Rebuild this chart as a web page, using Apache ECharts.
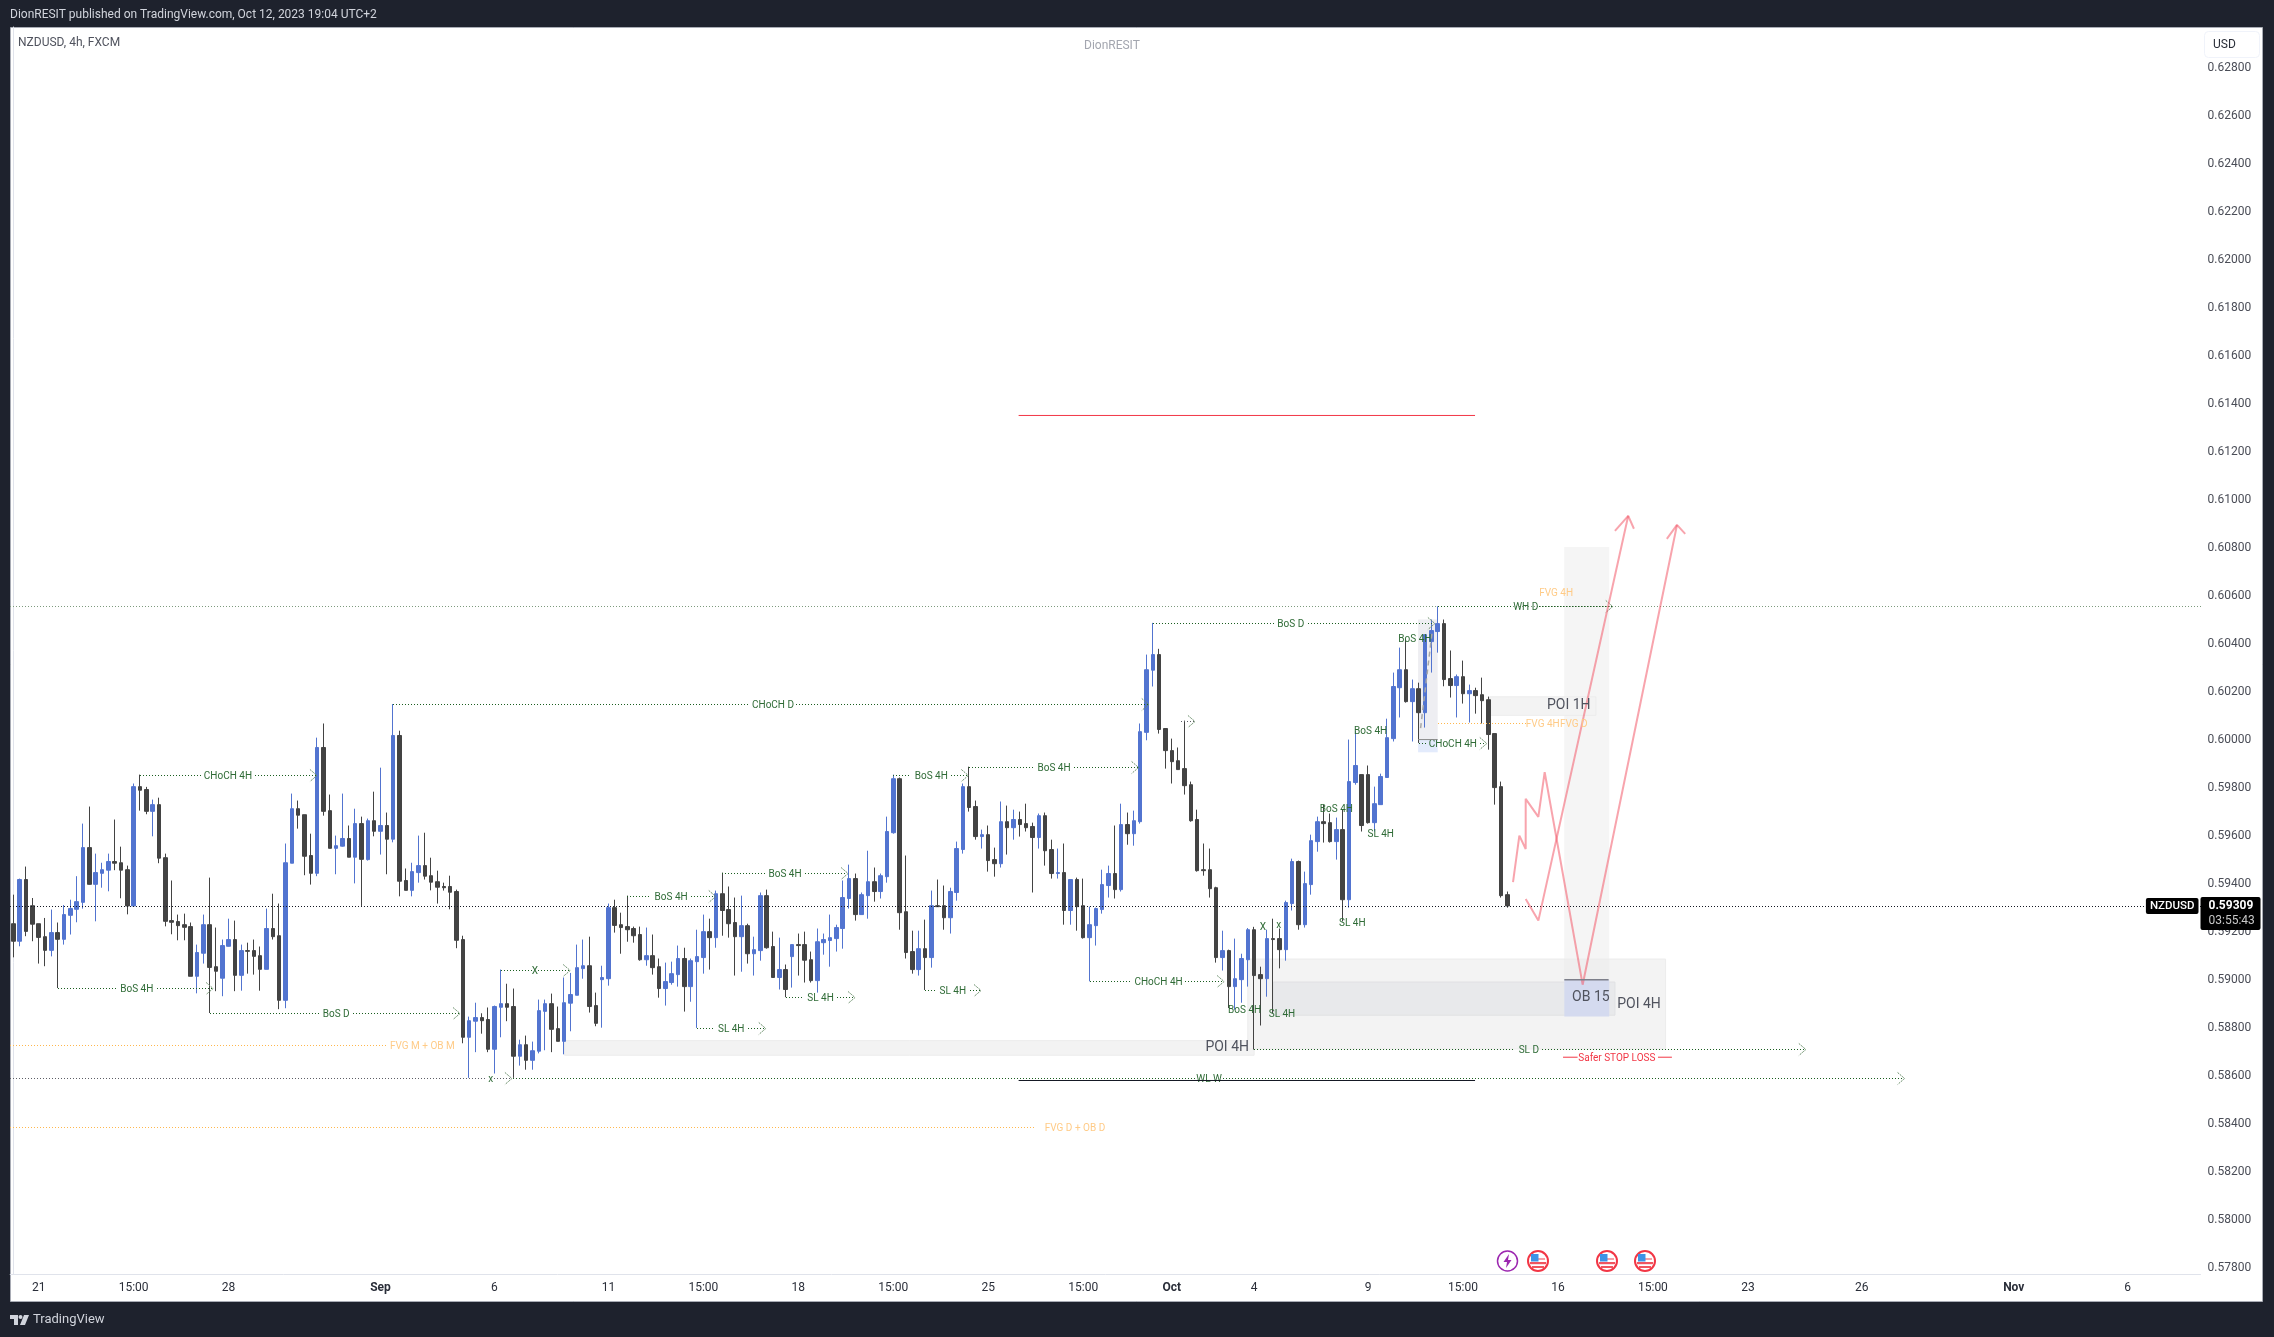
<!DOCTYPE html>
<html><head><meta charset="utf-8">
<style>html,body{margin:0;padding:0;background:#1e222d}#c{width:2274px;height:1337px}</style>
<script src="https://cdn.jsdelivr.net/npm/echarts@6/dist/echarts.min.js"></script>
</head><body><div id="c"></div>
<script>
const opens=[0.59235,0.59162,0.59419,0.59310,0.59235,0.59181,0.59124,0.59198,0.59170,0.59270,
0.59295,0.59324,0.59552,0.59399,0.59445,0.59458,0.59494,0.59489,0.59460,0.59309,
0.59806,0.59794,0.59703,0.59731,0.59510,0.59248,0.59244,0.59231,0.59223,0.59016,
0.59112,0.59231,0.59056,0.59008,0.59141,0.59169,0.59020,0.59123,0.59123,0.59102,
0.59045,0.59215,0.59185,0.58916,0.59487,0.59714,0.59689,0.59519,0.59445,0.59969,
0.59706,0.59549,0.59558,0.59590,0.59512,0.59652,0.59502,0.59664,0.59620,0.59644,
0.59587,0.60019,0.59415,0.59374,0.59448,0.59477,0.59435,0.59410,0.59390,0.59390,
0.59369,0.59169,0.58762,0.58829,0.58844,0.58836,0.58712,0.58887,0.58902,0.58890,
0.58683,0.58731,0.58666,0.58704,0.58870,0.58902,0.58798,0.58745,0.58904,0.58937,
0.59048,0.59060,0.58894,0.59002,0.59006,0.59302,0.59231,0.59223,0.59215,0.59190,
0.59085,0.59102,0.59056,0.58965,0.58990,0.59023,0.59090,0.58973,0.59077,0.59094,
0.59202,0.59177,0.59360,0.59294,0.59240,0.59181,0.59227,0.59110,0.59123,0.59352,
0.59140,0.59011,0.59044,0.59098,0.59148,0.59148,0.59085,0.58998,0.59156,0.59165,
0.59173,0.59215,0.59340,0.59423,0.59273,0.59352,0.59410,0.59369,0.59431,0.59614,
0.59839,0.59285,0.59119,0.59044,0.59131,0.59094,0.59310,0.59310,0.59260,0.59365,
0.59544,0.59806,0.59723,0.59598,0.59606,0.59502,0.59485,0.59660,0.59635,0.59669,
0.59652,0.59640,0.59594,0.59685,0.59544,0.59444,0.59448,0.59290,0.59419,0.59310,
0.59177,0.59227,0.59294,0.59394,0.59444,0.59377,0.59648,0.59610,0.59660,0.60032,
0.60291,0.60356,0.60048,0.59956,0.59914,0.59881,0.59814,0.59669,0.59460,0.59460,
0.59385,0.59094,0.59123,0.58973,0.59002,0.59085,0.59210,0.59023,0.59006,0.59173,
0.59173,0.59127,0.59319,0.59494,0.59231,0.59398,0.59577,0.59660,0.59656,0.59577,
0.59627,0.59335,0.59823,0.59856,0.59856,0.59656,0.59731,0.59844,0.60006,0.60218,
0.60293,0.60160,0.60214,0.60114,0.60410,0.60452,0.60485,0.60256,0.60227,0.60264,
0.60193,0.60206,0.60189,0.60168,0.60027,0.59806,0.59356];
const closes=[0.59162,0.59419,0.59203,0.59233,0.59178,0.59124,0.59198,0.59170,0.59273,0.59298,
0.59327,0.59552,0.59399,0.59448,0.59460,0.59494,0.59487,0.59458,0.59309,0.59806,
0.59791,0.59703,0.59731,0.59508,0.59245,0.59241,0.59227,0.59220,0.59016,0.59115,
0.59231,0.59053,0.59037,0.59144,0.59169,0.59020,0.59123,0.59120,0.59099,0.59045,
0.59215,0.59181,0.58916,0.59489,0.59714,0.59687,0.59516,0.59445,0.59969,0.59703,
0.59549,0.59560,0.59590,0.59512,0.59652,0.59503,0.59664,0.59620,0.59644,0.59587,
0.60019,0.59412,0.59374,0.59452,0.59477,0.59433,0.59408,0.59387,0.59385,0.59366,
0.59166,0.58762,0.58831,0.58844,0.58831,0.58712,0.58890,0.58902,0.58887,0.58683,
0.58731,0.58666,0.58706,0.58873,0.58902,0.58795,0.58745,0.58906,0.58940,0.59052,
0.59060,0.58890,0.58820,0.59011,0.59302,0.59228,0.59219,0.59210,0.59185,0.59085,
0.59102,0.59052,0.58965,0.58994,0.59027,0.59090,0.58973,0.59081,0.59098,0.59202,
0.59177,0.59360,0.59290,0.59235,0.59181,0.59227,0.59110,0.59127,0.59352,0.59135,
0.59011,0.59044,0.58961,0.59148,0.59144,0.59083,0.58998,0.59160,0.59169,0.59177,
0.59219,0.59344,0.59423,0.59273,0.59356,0.59410,0.59369,0.59435,0.59619,0.59839,
0.59281,0.59115,0.59044,0.59131,0.59094,0.59310,0.59306,0.59260,0.59369,0.59548,
0.59806,0.59719,0.59598,0.59606,0.59498,0.59485,0.59660,0.59635,0.59669,0.59648,
0.59635,0.59594,0.59685,0.59539,0.59444,0.59448,0.59290,0.59419,0.59306,0.59177,
0.59231,0.59298,0.59398,0.59444,0.59377,0.59648,0.59610,0.59664,0.60035,0.60293,
0.60356,0.60044,0.59956,0.59910,0.59877,0.59810,0.59664,0.59456,0.59456,0.59381,
0.59094,0.59123,0.58973,0.59006,0.59090,0.59210,0.59019,0.59006,0.59173,0.59169,
0.59127,0.59323,0.59494,0.59231,0.59402,0.59581,0.59660,0.59652,0.59577,0.59627,
0.59335,0.59827,0.59894,0.59644,0.59656,0.59735,0.59848,0.60010,0.60223,0.60293,
0.60160,0.60214,0.60114,0.60439,0.60456,0.60485,0.60252,0.60227,0.60264,0.60193,
0.60206,0.60185,0.60164,0.60023,0.59802,0.59352,0.59309];
const lows=[0.59095,0.59141,0.59183,0.59162,0.59069,0.59058,0.59099,0.58967,0.59148,0.59190,
0.59241,0.59298,0.59398,0.59245,0.59385,0.59370,0.59458,0.59341,0.59274,0.59309,
0.59706,0.59691,0.59599,0.59487,0.59224,0.59191,0.59166,0.59166,0.59016,0.58945,
0.59069,0.58863,0.58954,0.58933,0.59140,0.58954,0.58956,0.59027,0.59023,0.58956,
0.59045,0.59169,0.58879,0.58883,0.59487,0.59631,0.59437,0.59398,0.59433,0.59685,
0.59549,0.59441,0.59556,0.59512,0.59403,0.59309,0.59498,0.59599,0.59523,0.59441,
0.59574,0.59349,0.59374,0.59349,0.59406,0.59419,0.59374,0.59319,0.59373,0.59295,
0.59133,0.58737,0.58593,0.58700,0.58777,0.58700,0.58611,0.58762,0.58829,0.58593,
0.58644,0.58627,0.58627,0.58695,0.58708,0.58700,0.58745,0.58691,0.58787,0.58937,
0.59006,0.58865,0.58808,0.58802,0.58977,0.59198,0.59110,0.59160,0.59156,0.59081,
0.59060,0.59023,0.58927,0.58894,0.58981,0.58973,0.58869,0.58910,0.58801,0.59027,
0.59044,0.59135,0.59185,0.59177,0.59019,0.59035,0.59069,0.59019,0.59081,0.59131,
0.59011,0.58961,0.58929,0.58969,0.59019,0.58990,0.58990,0.58948,0.59106,0.59056,
0.59119,0.59131,0.59298,0.59248,0.59273,0.59256,0.59327,0.59340,0.59406,0.59610,
0.59210,0.59090,0.59027,0.59019,0.58959,0.59052,0.59306,0.59210,0.59194,0.59331,
0.59527,0.59702,0.59585,0.59548,0.59452,0.59431,0.59469,0.59523,0.59585,0.59598,
0.59619,0.59365,0.59548,0.59477,0.59423,0.59423,0.59231,0.59231,0.59206,0.59173,
0.58995,0.59144,0.59277,0.59344,0.59340,0.59369,0.59564,0.59560,0.59652,0.59999,
0.60223,0.60027,0.59881,0.59819,0.59877,0.59773,0.59660,0.59452,0.59435,0.59344,
0.59073,0.59040,0.58884,0.58877,0.58906,0.58973,0.58711,0.58811,0.58931,0.58863,
0.59049,0.59081,0.59290,0.59210,0.59219,0.59356,0.59535,0.59573,0.59573,0.59502,
0.59245,0.59302,0.59814,0.59619,0.59652,0.59619,0.59731,0.59844,0.59994,0.60094,
0.60156,0.59994,0.59988,0.60052,0.60281,0.60364,0.60224,0.60177,0.60094,0.60152,
0.60073,0.60110,0.60069,0.59960,0.59731,0.59344,0.59302];
const highs=[0.59356,0.59423,0.59473,0.59342,0.59235,0.59259,0.59294,0.59240,0.59313,0.59335,
0.59433,0.59652,0.59723,0.59527,0.59489,0.59527,0.59669,0.59556,0.59477,0.59819,
0.59856,0.59805,0.59752,0.59760,0.59527,0.59415,0.59273,0.59277,0.59240,0.59148,
0.59273,0.59427,0.59219,0.59169,0.59256,0.59248,0.59148,0.59156,0.59169,0.59140,
0.59298,0.59360,0.59319,0.59569,0.59777,0.59748,0.59689,0.59610,0.60010,0.60069,
0.59773,0.59602,0.59777,0.59644,0.59714,0.59681,0.59673,0.59785,0.59885,0.59698,
0.60150,0.60039,0.59465,0.59489,0.59602,0.59614,0.59510,0.59456,0.59406,0.59435,
0.59377,0.59185,0.58848,0.58906,0.58862,0.58886,0.58894,0.59044,0.58985,0.58965,
0.58752,0.58769,0.58744,0.58919,0.58919,0.58944,0.58890,0.59011,0.59030,0.59148,
0.59169,0.59181,0.58948,0.59060,0.59319,0.59335,0.59281,0.59352,0.59223,0.59223,
0.59219,0.59190,0.59090,0.59073,0.59077,0.59144,0.59135,0.59090,0.59210,0.59273,
0.59256,0.59373,0.59448,0.59390,0.59344,0.59352,0.59235,0.59181,0.59365,0.59377,
0.59202,0.59177,0.59065,0.59148,0.59194,0.59202,0.59119,0.59215,0.59194,0.59273,
0.59231,0.59415,0.59481,0.59444,0.59365,0.59539,0.59469,0.59444,0.59681,0.59856,
0.59844,0.59519,0.59206,0.59206,0.59252,0.59373,0.59419,0.59394,0.59385,0.59577,
0.59819,0.59889,0.59748,0.59627,0.59644,0.59552,0.59744,0.59727,0.59710,0.59702,
0.59735,0.59656,0.59694,0.59698,0.59585,0.59548,0.59569,0.59419,0.59427,0.59423,
0.59306,0.59302,0.59460,0.59477,0.59644,0.59735,0.59698,0.59706,0.60069,0.60356,
0.60488,0.60380,0.60048,0.60006,0.59969,0.60081,0.59827,0.59710,0.59569,0.59548,
0.59389,0.59206,0.59127,0.59173,0.59110,0.59217,0.59222,0.59056,0.59210,0.59256,
0.59215,0.59331,0.59506,0.59498,0.59452,0.59606,0.59681,0.59731,0.59694,0.59677,
0.59710,0.60002,0.60039,0.59856,0.59894,0.59806,0.59860,0.60089,0.60281,0.60385,
0.60422,0.60252,0.60239,0.60439,0.60502,0.60557,0.60502,0.60373,0.60273,0.60331,
0.60231,0.60218,0.60260,0.60181,0.60027,0.59827,0.59369];

const barSlots=346;
const timeLabels={4:'21',19:'15:00',34:'28',58:'Sep',76:'6',94:'11',109:'15:00',124:'18',139:'15:00',154:'25',169:'15:00',183:'Oct',196:'4',214:'9',229:'15:00',244:'16',259:'15:00',274:'23',292:'26',316:'Nov',334:'6'};
const priceTicks=[0.578,0.58,0.582,0.584,0.586,0.588,0.59,0.592,0.594,0.596,0.598,0.6,0.602,0.604,0.606,0.608,0.61,0.612,0.614,0.616,0.618,0.62,0.622,0.624,0.626,0.628];
const lastPrice=0.59309;
const symbolName='NZDUSD', countdown='03:55:43';

// label, bar from, bar to, price, label at bar, arrow, kind
const levels=[
['',-0.5,345.5,lastPrice,-9,0,'k'],
['',-0.5,345.5,0.60557,-9,0,'p'],
['x',-0.5,78.6,0.58593,75.4,1,'n'],
['CHoCH 4H',20,47.8,0.59855,33.9,1,'g'],
['BoS 4H',7,31.4,0.58967,19.5,1,'g'],
['BoS D',31,70.4,0.58863,51,1,'g'],
['X',77,87.8,0.59042,82.4,1,'g'],
['FVG M + OB M',-0.5,59,0.58730,64.6,0,'o'],
['FVG D + OB D',-0.5,161.2,0.58388,167.7,0,'o'],
['CHoCH D',60,179.2,0.60149,120,1,'g'],
['BoS 4H',97,110.8,0.59351,103.9,1,'g'],
['BoS 4H',112,131.7,0.59446,121.9,1,'g'],
['BoS 4H',139,150.7,0.59853,145,1,'g'],
['BoS 4H',151,177.6,0.59888,164.4,1,'g'],
['SL 4H',108,118.7,0.58801,113.4,1,'g'],
['SL 4H',122,132.8,0.58930,127.5,1,'g'],
['SL 4H',144,152.7,0.58959,148.4,1,'g'],
['CHoCH 4H',170,191.1,0.58997,180.9,1,'g'],
['BoS D',180,224.4,0.60488,201.8,1,'g'],
['WH D',225,252.5,0.60557,238.9,1,'g'],
['CHoCH 4H',222,232.6,0.59987,227.4,1,'g'],
['SL D',196,283,0.58713,239.4,1,'g'],
['WL W',79,298.6,0.58593,188.9,1,'g'],
['',184.5,186.5,0.60081,-9,1,'n'],
['FVG 4H',225,238.9,0.60070,241.6,0,'o']
];
// text, bar, price, kind
const notes=[
['BoS 4H',221.4,0.60421,'g'],['BoS 4H',214.4,0.60038,'g'],['BoS 4H',209,0.59713,'g'],
['SL 4H',216,0.59609,'g'],['SL 4H',211.5,0.59238,'g'],['X',197.4,0.59222,'g'],['x',199.9,0.59231,'g'],
['BoS 4H',194.5,0.58876,'g'],['SL 4H',200.4,0.58863,'g'],
['FVG D',246.5,0.60070,'o'],['FVG 4H',243.7,0.60614,'o'],
['Safer STOP LOSS',253.3,0.58679,'r'],
['POI 4H',191.75,0.58722,'b'],['POI 1H',245.7,0.60148,'b'],['OB 15',249.2,0.58930,'b'],['POI 4H',256.8,0.58902,'b']
];
// bar from, bar to, top, bottom, kind
const zones=[
[87.07,196,0.58748,0.58687,'a'],
[195,261,0.59088,0.58713,'a'],
[199,253,0.58992,0.58854,'c'],
[245,252.1,0.60804,0.59002,'t'],
[233.2,250,0.60180,0.60103,'a'],
[221.9,225,0.60502,0.60002,'d'],
[221.9,225,0.60002,0.59949,'e'],
[245,252.1,0.59002,0.58849,'u']
];
const forecastA=[[236.9,0.59408],[237.9,0.59602],[238.9,0.59546],[238.9,0.59755],[240.9,0.59680],[241.9,0.59866],[247.9,0.58981],[262.8,0.60896]];
const forecastAHead=[[261.2,0.60838],[262.8,0.60896],[264.1,0.60859]];
const forecastB=[[238.9,0.59338],[240.9,0.59248],[255.1,0.60934]];
const forecastBHead=[[253.0,0.60871],[255.1,0.60934],[256.0,0.60880]];
const redLevel=[[158.8,0.61352],[230.9,0.61352]];
const blackLevel=[[158.8,0.58582],[230.9,0.58582]];
const greyDash=[[222.3,0.60050],[224.1,0.60446]];
const obTop=[[245,0.59002],[252,0.59002]];
const poiMid=[[221.9,0.60002],[225,0.60002]];
const stopLeft=[[244.8,0.58679],[247.1,0.58679]];
const stopRight=[[259.8,0.58679],[262,0.58679]];

const FONT='Roboto, "Noto Sans", sans-serif';
const lineStyles={g:{stroke:'#1b5e20',lineDash:[1,2]},n:{stroke:'#5d5f66',lineDash:[1,2]},p:{stroke:'#7d9a7d',lineDash:[1,2]},o:{stroke:'#ffb74d',lineDash:[1,2]},k:{stroke:'#131722',lineDash:[1,2]}};
const textColors={g:'#2f6b36',n:'#2f6b36',o:'#ffcb87',r:'#f23645',b:'#50535e',p:'#2f6b36'};
const zoneStyles={a:{fill:'#f3f3f3',stroke:'#ececec'},c:{fill:'#e8e9eb',stroke:'#e0e1e3'},t:{fill:'rgba(235,235,235,0.5)',stroke:'none'},d:{fill:'#eeeef2',stroke:'none'},e:{fill:'#e3ebfc',stroke:'none'},u:{fill:'#d4daef',stroke:'none'}};

const categories=Array.from({length:barSlots},(_,i)=>timeLabels[i]||'');
const candleData=opens.map((o,i)=>[o,closes[i],lows[i],highs[i]]);

function crisp(v){return Math.round(v)+0.5;}
function renderLevel(params,api){
  const r=levels[params.dataIndex];
  const a=api.coord([r[1],r[3]]),b=api.coord([r[2],r[3]]),lab=api.coord([r[4],r[3]]);
  const y=crisp(a[1]);
  const st=lineStyles[r[6]];
  const kids=[];
  const seg=(x1,x2)=>kids.push({type:'line',shape:{x1:Math.round(x1),y1:y,x2:Math.round(x2),y2:y},style:{stroke:st.stroke,lineDash:st.lineDash,lineWidth:1,fill:null}});
  const half=r[0].length*3.35;
  if(r[0]&&lab[0]>a[0]&&lab[0]<b[0]){seg(a[0],lab[0]-half);seg(lab[0]+half,b[0]);}else seg(a[0],b[0]);
  if(r[0])kids.push({type:'text',x:lab[0],y:y+0.5,style:{text:r[0],fill:textColors[r[6]],font:'10px '+FONT,align:'center',verticalAlign:'middle'}});
  if(r[5])kids.push({type:'polyline',shape:{points:[[b[0]-6,y-6],[b[0]+1,y],[b[0]-6,y+6]]},style:{stroke:'#6b8f6b',lineDash:[2,1],lineWidth:1,fill:null}});
  return {type:'group',children:kids};
}
function renderNote(params,api){
  const r=notes[params.dataIndex];
  const p=api.coord([r[1],r[2]]);
  const big=r[3]==='b';
  return {type:'text',x:p[0],y:p[1]+1,style:{text:r[0],fill:textColors[r[3]],font:(big?'14px ':'10px ')+FONT,align:'center',verticalAlign:'middle'}};
}
function renderZone(params,api){
  const r=zones[params.dataIndex];
  const a=api.coord([r[0],r[2]]),b=api.coord([r[1],r[3]]);
  const s=zoneStyles[r[4]];
  return {type:'rect',shape:{x:a[0],y:a[1],width:b[0]-a[0],height:b[1]-a[1]},style:{fill:s.fill,stroke:s.stroke==='none'?null:s.stroke,lineWidth:1}};
}
function pathSeries(data,color,width,dash,z){
  return {type:'line',xAxisIndex:1,yAxisIndex:0,data,symbol:'none',animation:false,silent:true,z:z||5,clip:false,
    lineStyle:{color,width,type:dash||'solid'}};
}
function usFlag(cx,cy){
  const r=(x,y,w,h,f)=>({type:'rect',shape:{x:cx+x,y:cy+y,width:w,height:h},style:{fill:f},z:6});
  return [
   {type:'circle',shape:{cx,cy,r:10},style:{fill:'#fff',stroke:'#f23645',lineWidth:2},z:5},
   r(-7,-3,14,2,'#f7a0a6'),r(-8,1,16,2.2,'#f0555f'),r(-6,5,12,2,'#f0555f'),
   r(-7,-7,7.5,7.5,'#3d93e6')
  ];
}
const chart=echarts.init(document.getElementById('c'),null,{renderer:'canvas',width:2274,height:1337});
chart.setOption({
  animation:false,
  backgroundColor:'#1e222d',
  textStyle:{fontFamily:FONT},
  grid:{left:10.2,right:2274-2200.5,top:27,bottom:1337-1274,containLabel:false},
  xAxis:[{type:'category',data:categories,boundaryGap:true,
      axisLine:{show:true,onZero:false,lineStyle:{color:'#e0e3eb'}},axisTick:{show:false},splitLine:{show:false},
      axisLabel:{show:true,interval:(i,v)=>v!=='',margin:8,fontSize:12,color:'#2a2e39',fontFamily:FONT,hideOverlap:false,
        formatter:v=>(v==='Sep'||v==='Oct'||v==='Nov')?'{m|'+v+'}':v,rich:{m:{fontWeight:'bold',fontSize:12,color:'#2a2e39',fontFamily:FONT}}}},
    {type:'value',min:-0.5,max:barSlots-0.5,show:false}],
  yAxis:[{type:'value',position:'right',scale:true,min:0.57776,max:0.6297,
      axisLine:{show:true,lineStyle:{color:'#e0e3eb'}},axisTick:{show:false},splitLine:{show:false},
      axisLabel:{show:true,customValues:priceTicks,margin:7,fontSize:12,color:'#4a4d57',fontFamily:FONT,formatter:v=>v.toFixed(5)}}],
  series:[
    {type:'custom',name:'zones',xAxisIndex:1,yAxisIndex:0,z:1,silent:true,clip:false,renderItem:renderZone,data:zones.map(z=>[z[0],z[1],z[2],z[3]])},
    {type:'candlestick',name:symbolName,xAxisIndex:0,yAxisIndex:0,z:2,silent:true,barWidth:4,data:candleData,
      itemStyle:{color:'#5274d0',color0:'#434343',borderColor:'#5274d0',borderColor0:'#434343',borderWidth:1}},
    {type:'custom',name:'levels',xAxisIndex:1,yAxisIndex:0,z:4,silent:true,clip:false,renderItem:renderLevel,data:levels.map(r=>[r[1],r[2],r[3]])},
    {type:'custom',name:'notes',xAxisIndex:1,yAxisIndex:0,z:6,silent:true,clip:false,renderItem:renderNote,data:notes.map(r=>[r[1],r[2]])},
    pathSeries(forecastA,'rgba(242,90,105,0.55)',2),
    pathSeries(forecastAHead,'rgba(242,90,105,0.55)',2),
    pathSeries(forecastB,'rgba(242,90,105,0.55)',2),
    pathSeries(forecastBHead,'rgba(242,90,105,0.55)',2),
    pathSeries(redLevel,'#f23645',1),
    pathSeries(blackLevel,'#131722',1),
    pathSeries(greyDash,'#a8a8a8',1.5,[5,4]),
    pathSeries(obTop,'#7d7f8a',1.5),
    pathSeries(poiMid,'#8a8a8a',1),
    pathSeries(stopLeft,'#f23645',1),
    pathSeries(stopRight,'#f23645',1),
    {type:'scatter',xAxisIndex:1,yAxisIndex:0,z:8,silent:true,symbolSize:0,clip:false,itemStyle:{opacity:1},data:[[barSlots-0.5,lastPrice]],
      label:{show:true,opacity:1,position:'right',distance:0,offset:[0,7.5],formatter:'{a|'+lastPrice.toFixed(5)+'}\n{b|'+countdown+'}',
        backgroundColor:'#000',padding:[2,4,2,8],borderRadius:2,
        rich:{a:{color:'#fff',fontSize:12,fontWeight:'bold',lineHeight:15,width:48,fontFamily:FONT},b:{color:'#c9c9c9',fontSize:12,lineHeight:14,width:48,fontFamily:FONT}}}},
    {type:'scatter',xAxisIndex:1,yAxisIndex:0,z:8,silent:true,symbolSize:0,clip:false,itemStyle:{opacity:1},data:[[barSlots-0.5,lastPrice]],
      label:{show:true,opacity:1,position:'left',distance:2,offset:[0,0],formatter:symbolName,color:'#fff',fontSize:11.5,fontFamily:FONT,fontWeight:'500',
        backgroundColor:'#000',padding:[2,4],borderRadius:2}}
  ],
  graphic:[
    {type:'rect',z:-10,silent:true,shape:{x:10.5,y:27.5,width:2252,height:1274},style:{fill:'#fff',stroke:'#a9acb5',lineWidth:1}},
    {type:'text',left:10,top:9,z:10,style:{text:'DionRESIT published on TradingView.com, Oct 12, 2023 19:04 UTC+2',fill:'#d1d4dc',font:'12px '+FONT}},
    {type:'text',left:18,top:37,z:10,style:{text:'NZDUSD, 4h, FXCM',fill:'#50535e',font:'12px '+FONT}},
    {type:'text',left:1084,top:40,z:10,style:{text:'DionRESIT',fill:'#a3a6af',font:'12px '+FONT}},
    {type:'rect',z:10,shape:{x:2204.5,y:31.5,width:55,height:26,r:4},style:{fill:'#fff',stroke:'#f0f3fa',lineWidth:1}},
    {type:'text',left:2213,top:39,z:11,style:{text:'USD',fill:'#2a2e39',font:'12px '+FONT}},
    {type:'text',left:33,top:1313,z:10,style:{text:'TradingView',fill:'#d1d4dc',font:'13px '+FONT}},
    {type:'polygon',z:10,shape:{points:[[10,1315],[18,1315],[18,1325],[14,1325],[14,1319],[10,1319]]},style:{fill:'#d1d4dc'}},
    {type:'circle',z:10,shape:{cx:20.5,cy:1317,r:2},style:{fill:'#d1d4dc'}},
    {type:'polygon',z:10,shape:{points:[[24,1315],[29,1315],[25,1325],[20,1325]]},style:{fill:'#d1d4dc'}},
    {type:'circle',z:5,shape:{cx:1507.5,cy:1261,r:10},style:{fill:'#fff',stroke:'#9c27b0',lineWidth:1.5}},
    {type:'polygon',z:6,shape:{points:[[1509,1254],[1503.5,1262],[1507,1262],[1506,1268],[1511.5,1260],[1508,1260]]},style:{fill:'#9c27b0'}},
    ...usFlag(1538,1261),...usFlag(1607,1261),...usFlag(1645,1261)
  ]
});
</script></body></html>
